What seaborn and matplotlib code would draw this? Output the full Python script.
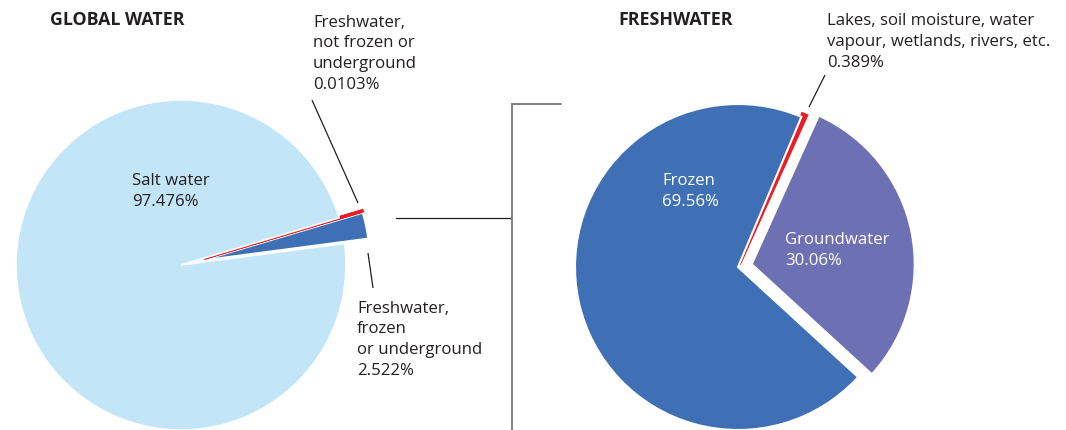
import matplotlib
matplotlib.use("Agg")
import matplotlib.pyplot as plt
import seaborn as sns

# ---- data -------------------------------------------------------------
global_labels = ["Freshwater, frozen or underground",
                 "Freshwater, not frozen or underground",
                 "Salt water"]
global_values = [2.522, 0.0103, 97.476]
global_colors = ["#3F6FB4", "#ED1C24", "#C2E6F8"]

fresh_labels = ["Groundwater",
                "Lakes, soil moisture, water vapour, wetlands, rivers, etc.",
                "Frozen"]
fresh_values = [30.06, 0.389, 69.56]
fresh_colors = ["#6E70B4", "#ED1C24", "#3F6FB4"]

TEXT = "#231F20"
W, H = 1066, 430

sns.set_theme(style="white")
plt.rcParams["font.family"] = ["Open Sans", "DejaVu Sans"]

fig = plt.figure(figsize=(W / 100, H / 100), dpi=100)
ax = fig.add_axes([0, 0, 1, 1])


def yy(y):
    """Convert a top-down pixel row to the axes' upward y coordinate."""
    return H - y


# ---- global water pie (explode offsets are in axis units) -------------
g_wedges, _ = ax.pie(global_values, colors=global_colors,
                     explode=[24, 24, 0], startangle=7.5,
                     center=(181, yy(265)), radius=165, frame=True,
                     wedgeprops=dict(edgecolor="white", linewidth=1.2))
g_wedges[1].set_edgecolor(global_colors[1])
g_wedges[1].set_linewidth(2.4)

# ---- freshwater pie ---------------------------------------------------
f_wedges, _ = ax.pie(fresh_values, colors=fresh_colors,
                     explode=[14, 3, 0], startangle=-42.5,
                     center=(738, yy(267)), radius=163, frame=True,
                     wedgeprops=dict(edgecolor="white", linewidth=1.5))
f_wedges[1].set_edgecolor(fresh_colors[1])
f_wedges[1].set_linewidth(2.6)

ax.set_xlim(0, W)
ax.set_ylim(0, H)
ax.set_aspect("equal")
ax.axis("off")

# ---- titles -----------------------------------------------------------
ax.text(50, yy(25), "GLOBAL WATER", fontsize=12.8, fontweight="bold",
        color=TEXT, va="baseline", ha="left")
ax.text(618, yy(25), "FRESHWATER", fontsize=12.8, fontweight="bold",
        color=TEXT, va="baseline", ha="left")

# ---- labels -----------------------------------------------------------
FS = 12.1
LS = 1.40


def label(x, y_base, text, color=TEXT):
    ax.text(x, yy(y_base), text, fontsize=FS, color=color, ha="left",
            va="baseline", linespacing=LS, multialignment="left")


label(313, 89, "Freshwater,\nnot frozen or\nunderground\n"
      + f"{global_values[1]:g}%")
label(357, 375, "Freshwater,\nfrozen\nor underground\n"
      + f"{global_values[0]:.3f}%")
label(132, 206, "Salt water\n" + f"{global_values[2]:.3f}%")

label(827, 67, "Lakes, soil moisture, water\nvapour, wetlands, rivers, etc.\n"
      + f"{fresh_values[1]:.3f}%")
label(662, 206, "Frozen\n" + f"{fresh_values[2]:.2f}%", color="white")
label(785, 265, "Groundwater\n" + f"{fresh_values[0]:.2f}%", color="white")

# ---- leader lines -----------------------------------------------------
lead = dict(color=TEXT, linewidth=0.9, solid_capstyle="butt")
ax.plot([312, 358], [yy(100), yy(203)], **lead)
ax.plot([368, 373], [yy(253), yy(288)], **lead)
ax.plot([825, 809], [yy(75), yy(107)], **lead)

# ---- connector between the two pies -----------------------------------
ax.plot([396, 512], [yy(218), yy(218)], color=TEXT, linewidth=0.9)
grey = dict(color="#808080", linewidth=1.4)
ax.plot([512, 512], [yy(104), yy(430)], **grey)
ax.plot([512, 561], [yy(104), yy(104)], **grey)

fig.savefig("out.png", dpi=100)
